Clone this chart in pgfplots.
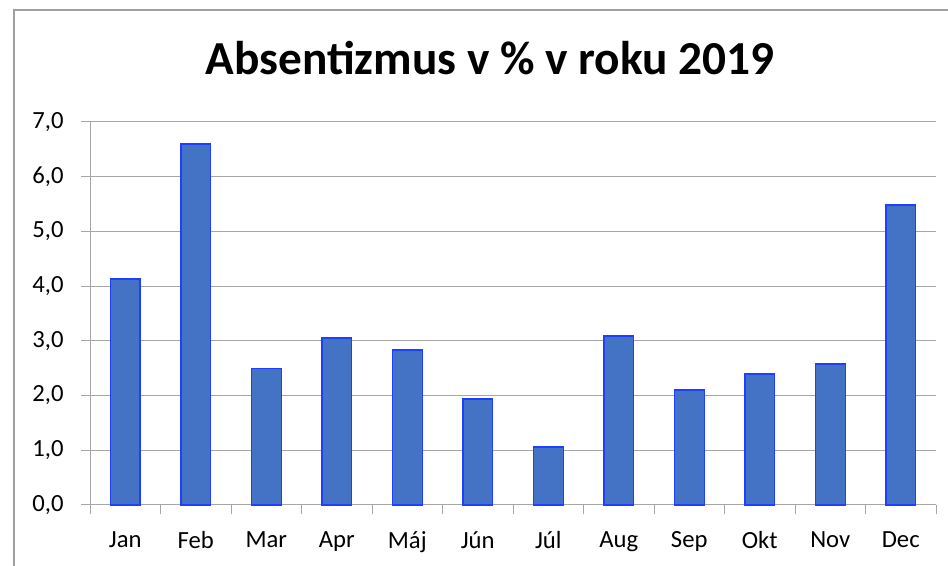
\documentclass[border=0pt]{standalone}
\usepackage{pgfplots}
\pgfplotsset{compat=1.18}
\usepackage{fontspec}
\setmainfont{Carlito}
\definecolor{barfill}{HTML}{4472C4}
\definecolor{baredge}{HTML}{1F3FFF}
\definecolor{gridc}{HTML}{A6A6A6}
\definecolor{framec}{HTML}{A0A0A0}
\begin{document}
\begin{tikzpicture}
\path[use as bounding box] (0,0) rectangle (711pt,424.5pt);
\draw[framec, line width=0.9pt] (10.5pt,0) -- (10.5pt,417pt) -- (711pt,417pt);
\node[anchor=base, font=\bfseries\fontsize{35.5pt}{42pt}\selectfont] at (367.5pt,368.25pt) {Absentizmus v \% v roku 2019};
\begin{axis}[
  at={(67.5pt,45.75pt)}, anchor=south west,
  scale only axis, width=634.5pt, height=287.25pt,
  xmin=-0.5, xmax=11.5, ymin=0, ymax=7,
  enlargelimits=false, clip=false,
  axis lines*=left,
  axis line style={gridc, line width=0.75pt},
  ytick={0,1,...,7},
  ymajorgrids, grid style={gridc, line width=0.75pt},
  xtick={-0.5,0.5,...,11.5},
  xticklabels={},
  extra x ticks={0,1,...,11},
  extra x tick labels={Jan,Feb,Mar,Apr,Máj,Jún,Júl,Aug,Sep,Okt,Nov,Dec},
  extra x tick style={major tick length=0pt, tick label style={yshift=-16.5pt}},
  tick align=outside,
  major tick length=6.75pt,
  tick style={gridc, line width=0.75pt},
  y tick label style={xshift=-9.5pt, /pgf/number format/.cd, fixed, fixed zerofill, precision=1, use comma},
  /pgf/number format/assume math mode=true,
  tick label style={font=\fontsize{18.5pt}{20pt}\selectfont, black},
]
\addplot[ybar, bar width=0.425, fill=barfill, draw=baredge, line width=1.1pt] coordinates {
(0,4.13) (1,6.60) (2,2.49) (3,3.05) (4,2.83) (5,1.94)
(6,1.06) (7,3.09) (8,2.10) (9,2.39) (10,2.58) (11,5.48)
};
\end{axis}
\end{tikzpicture}
\end{document}
